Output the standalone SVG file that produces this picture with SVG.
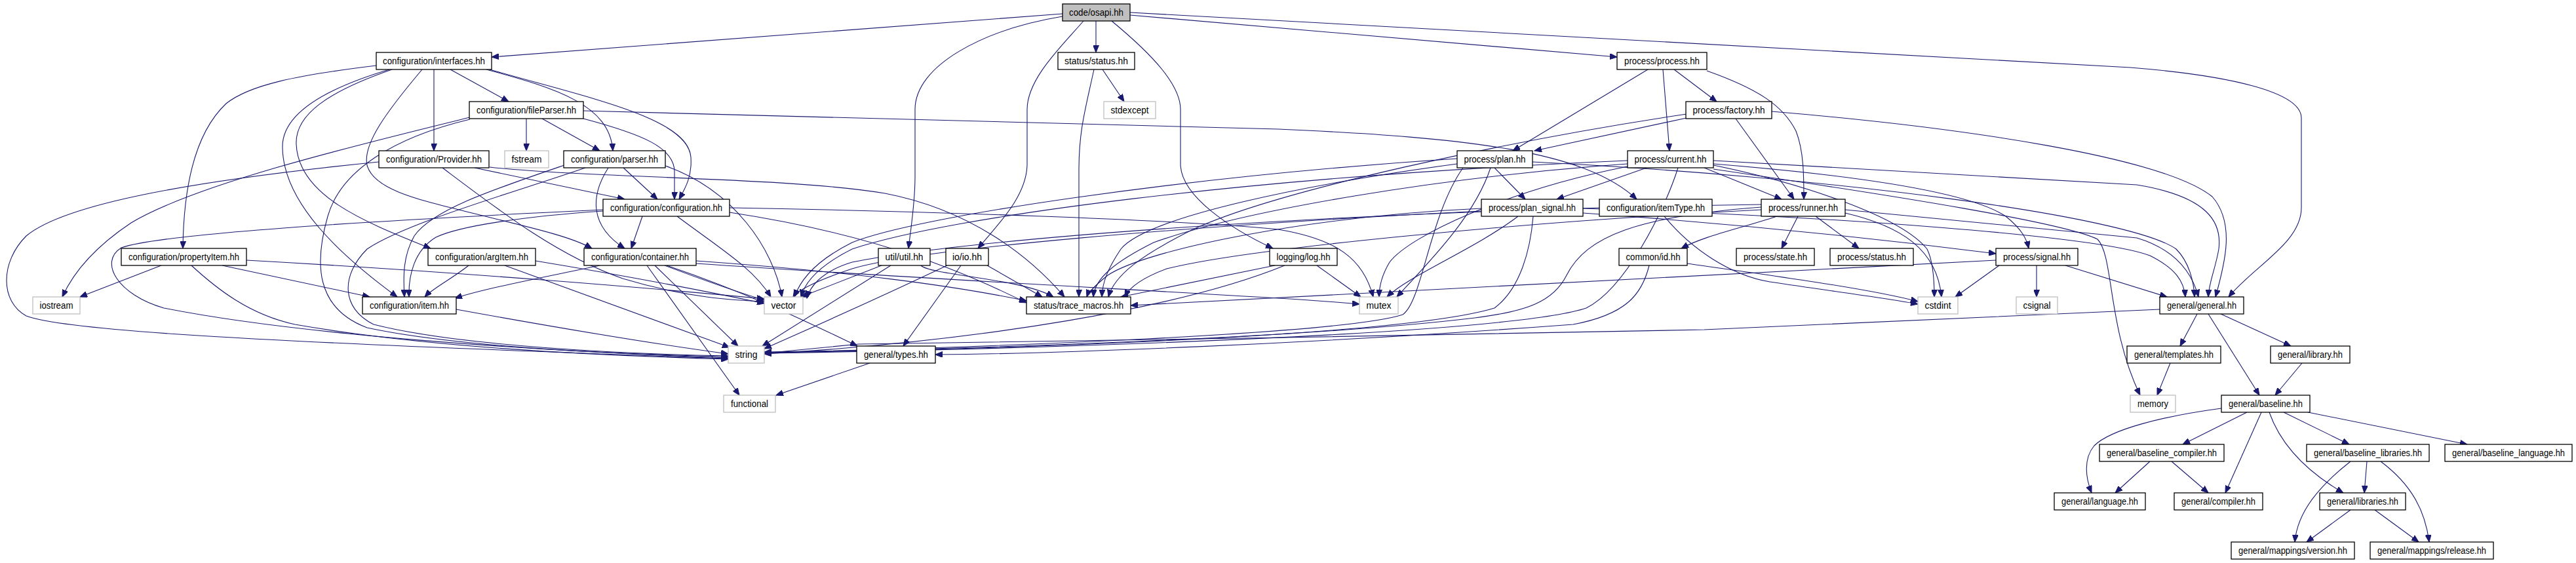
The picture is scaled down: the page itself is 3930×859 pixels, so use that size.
<svg xmlns="http://www.w3.org/2000/svg" width="3930" height="859" viewBox="0 0 3930 859">
<defs>
<marker id="ah" markerWidth="12" markerHeight="9" refX="11" refY="4.5" orient="auto" markerUnits="userSpaceOnUse">
<path d="M0,0 L11,4.5 L0,9 z" fill="#191970" stroke="#191970"/>
</marker>
<style>
.e path{fill:none;stroke:#191970;stroke-width:1.1;marker-end:url(#ah)}
.n rect{fill:#fff;stroke:#000;stroke-width:1.3}
.x rect{fill:#fff;stroke:#bfbfbf;stroke-width:1.3}
.r rect{fill:#bfbfbf;stroke:#000;stroke-width:1.3}
text{font-family:"Liberation Sans",Arial,sans-serif;font-size:14px;text-anchor:middle;fill:#000}
</style>
</defs>
<rect width="3930" height="859" fill="#fff"/>
<g id="connectors" class="e">
<path d="M1621,21 L750,87"/>
<path d="M1672,32 L1672,80"/>
<path d="M1621,25 C1500,45 1396,100 1396,167 L1396,270 C1396,310 1390,345 1386,379"/>
<path d="M1653,32 C1620,70 1567,120 1567,167 L1567,250 C1567,300 1520,345 1492,379"/>
<path d="M1696,32 C1760,85 1801,130 1801,167 L1801,250 C1801,300 1880,350 1942,379"/>
<path d="M1724,23 L2467,87"/>
<path d="M1724,19 L3250,103 C3400,115 3511,140 3511,180 L3511,317 C3511,370 3440,405 3400,453"/>
<path d="M1682,106 L1715,155"/>
<path d="M1669,106 C1655,170 1646,200 1646,260 L1646,453"/>
<path d="M574,100 C450,115 380,130 345,158 C295,205 280,290 279,379"/>
<path d="M662,106 L662,230"/>
<path d="M687,106 L776,155"/>
<path d="M742,106 C850,135 930,160 935,230"/>
<path d="M747,106 C900,150 1050,180 1054,240 C1056,270 1045,288 1036,304"/>
<path d="M644,106 C590,170 553,220 560,252 C570,290 640,305 720,325 C800,345 870,360 903,379"/>
<path d="M598,106 C500,140 450,175 452,220 C455,300 560,340 657,379"/>
<path d="M594,106 C480,140 430,180 431,225 C432,310 520,390 606,453"/>
<path d="M803,181 L803,230"/>
<path d="M827,181 L915,230"/>
<path d="M890,181 C980,205 1029,225 1029,262 L1029,304"/>
<path d="M890,169 L1950,197 C2250,210 2420,232 2497,304"/>
<path d="M717,179 C550,220 300,280 200,340 C140,380 110,420 95,453"/>
<path d="M717,182 C600,210 520,260 500,330 C480,400 480,470 560,500 C700,530 950,541 1111,544"/>
<path d="M724,256 L953,304"/>
<path d="M578,247 C300,275 100,310 40,360 C0,400 0,460 40,482 C100,505 400,522 1111,547"/>
<path d="M747,255 C900,272 1200,270 1350,295 C1480,320 1570,390 1624,453"/>
<path d="M675,256 C760,320 850,390 950,425 C1050,455 1120,458 1166,460"/>
<path d="M951,256 L1003,304"/>
<path d="M928,256 C900,300 900,345 953,379"/>
<path d="M1015,253 C1120,290 1180,380 1193,453"/>
<path d="M861,252 C750,290 660,320 632,360 C615,390 615,420 617,453"/>
<path d="M893,256 C780,295 620,340 560,380 C520,420 520,470 570,495 C700,528 950,540 1111,543"/>
<path d="M920,322 C800,330 700,345 665,362 C632,382 623,420 624,453"/>
<path d="M920,320 C600,335 250,355 185,378 C150,400 180,450 250,470 C450,510 800,535 1111,546"/>
<path d="M980,330 L963,379"/>
<path d="M1033,330 C1100,380 1150,410 1176,453"/>
<path d="M1113,317 C1400,322 1800,335 1950,350 C2040,365 2080,395 2095,453"/>
<path d="M1113,324 C1350,360 1480,420 1566,462"/>
<path d="M915,405 C820,425 740,440 694,455"/>
<path d="M987,405 L1128,603"/>
<path d="M999,405 L1126,528"/>
<path d="M1014,405 C1080,430 1140,450 1166,458"/>
<path d="M1017,405 C1150,450 1250,500 1308,528"/>
<path d="M1062,398 C1300,415 1450,435 1566,459"/>
<path d="M1062,402 C1400,425 1700,440 1950,455 C2000,458 2040,461 2074,464"/>
<path d="M715,405 C690,425 660,440 648,453"/>
<path d="M770,405 L1113,530"/>
<path d="M817,398 C950,420 1080,445 1166,463"/>
<path d="M246,405 L122,453"/>
<path d="M292,405 C330,440 380,480 450,495 C650,530 900,542 1111,548"/>
<path d="M339,405 L564,453"/>
<path d="M376,397 C700,415 1000,440 1166,456"/>
<path d="M696,472 C850,500 1000,525 1111,540"/>
<path d="M1345,405 L1222,453"/>
<path d="M1359,405 L1163,528"/>
<path d="M1405,405 C1420,420 1560,425 1607,453"/>
<path d="M1466,405 L1378,528"/>
<path d="M1445,405 C1350,450 1250,495 1166,532"/>
<path d="M1506,405 L1590,453"/>
<path d="M1945,405 L1710,453"/>
<path d="M2009,405 L2076,453"/>
<path d="M1960,405 C1800,470 1500,520 1166,540"/>
<path d="M1327,554 L1184,603"/>
<path d="M2554,106 L2619,155"/>
<path d="M2514,106 L2308,230"/>
<path d="M2537,106 L2547,230"/>
<path d="M2604,108 C2680,135 2720,160 2740,200 C2752,230 2752,270 2752,304"/>
<path d="M2648,181 L2737,304"/>
<path d="M2573,180 L2341,230"/>
<path d="M2703,170 C3000,195 3300,240 3375,300 C3410,340 3395,400 3380,453"/>
<path d="M2573,174 C2300,215 1950,290 1820,350 C1740,390 1700,420 1691,453"/>
<path d="M2280,256 L2327,304"/>
<path d="M2338,247 C2800,270 3250,330 3320,380 C3340,400 3347,430 3348,453"/>
<path d="M2223,250 C2000,280 1750,330 1710,380 C1690,410 1682,430 1681,453"/>
<path d="M2274,256 C2250,330 2180,400 2131,453"/>
<path d="M2232,256 C2180,330 2170,460 2140,480 C2050,510 1500,530 1166,538"/>
<path d="M2223,242 C1800,270 1400,330 1300,370 C1240,400 1220,430 1212,453"/>
<path d="M2512,256 L2375,304"/>
<path d="M2600,256 L2718,304"/>
<path d="M2614,250 C2800,265 3000,290 3060,330 C3085,350 3092,365 3095,379"/>
<path d="M2614,245 L3260,282 C3370,300 3390,340 3385,380 C3380,410 3370,430 3369,453"/>
<path d="M2614,252 C2750,280 2900,330 2940,380 C2950,400 2951,430 2951,453"/>
<path d="M2483,250 C2200,270 1900,320 1760,370 C1700,400 1670,425 1668,453"/>
<path d="M2483,254 C2300,290 2150,360 2120,400 C2108,420 2104,440 2104,453"/>
<path d="M2560,256 C2540,320 2480,440 2420,470 C2300,510 1600,532 1166,539"/>
<path d="M2483,245 C1900,270 1450,330 1300,380 C1250,405 1228,430 1222,453"/>
<path d="M2614,258 C2900,300 3150,340 3200,365 C3225,390 3215,500 3265,603"/>
<path d="M2415,318 C2800,330 3200,360 3280,390 C3320,410 3332,430 3334,453"/>
<path d="M2415,325 C2700,345 2950,375 3045,387"/>
<path d="M2260,318 C2000,330 1750,380 1690,420 C1665,440 1659,450 1658,453"/>
<path d="M2316,330 C2250,380 2150,420 2116,453"/>
<path d="M2339,330 C2335,380 2320,440 2280,470 C2150,510 1600,532 1166,538"/>
<path d="M2260,322 C1800,345 1400,380 1300,410 C1240,430 1215,445 1210,453"/>
<path d="M2743,330 L2718,379"/>
<path d="M2770,330 L2836,379"/>
<path d="M2711,330 C2650,350 2600,360 2565,379"/>
<path d="M2815,320 L3260,363 C3300,375 3340,400 3354,453"/>
<path d="M2815,325 C2900,345 2955,380 2962,453"/>
<path d="M2687,320 C2300,340 1900,380 1780,410 C1740,425 1722,440 1716,453"/>
<path d="M2687,316 C2500,330 2420,360 2390,420 C2370,460 2330,475 2250,485 C2000,515 1500,533 1166,537"/>
<path d="M2687,312 C2100,320 1500,360 1300,400 C1250,415 1235,440 1231,455"/>
<path d="M2574,402 C2700,420 2850,440 2926,460"/>
<path d="M2516,405 C2505,450 2480,480 2400,495 C2000,525 1600,540 1427,541"/>
<path d="M2539,330 C2580,380 2640,420 2700,430 C2800,445 2880,455 2926,464"/>
<path d="M3151,405 L3306,453"/>
<path d="M3050,405 L2983,453"/>
<path d="M3107,405 L3107,453"/>
<path d="M3045,397 L1725,466"/>
<path d="M3352,479 L3326,528"/>
<path d="M3369,479 L3447,603"/>
<path d="M3388,479 L3495,528"/>
<path d="M3295,472 L2600,503 L1960,515 L1310,525 L1166,539"/>
<path d="M3311,554 L3291,603"/>
<path d="M3512,554 L3471,603"/>
<path d="M3428,629 L3330,678"/>
<path d="M3450,629 L3395,752"/>
<path d="M3462,629 C3480,680 3520,720 3575,752"/>
<path d="M3484,629 L3584,678"/>
<path d="M3521,629 L3764,678"/>
<path d="M3389,623 C3300,635 3220,655 3195,680 C3178,700 3182,730 3191,752"/>
<path d="M3280,704 L3227,752"/>
<path d="M3313,704 L3369,752"/>
<path d="M3611,704 L3607,752"/>
<path d="M3586,704 C3540,740 3505,780 3501,827"/>
<path d="M3632,704 C3680,740 3700,780 3706,827"/>
<path d="M3586,778 L3519,827"/>
<path d="M3623,778 L3690,827"/>
</g>
<g id="n_osapi" class="r"><rect x="1621" y="6" width="103" height="26"/><text x="1672.5" y="24" textLength="83" lengthAdjust="spacingAndGlyphs">code/osapi.hh</text></g>
<g id="n_interfaces" class="n"><rect x="574" y="80" width="176" height="26"/><text x="662" y="98" textLength="156" lengthAdjust="spacingAndGlyphs">configuration/interfaces.hh</text></g>
<g id="n_status" class="n"><rect x="1614" y="80" width="117" height="26"/><text x="1672.5" y="98" textLength="97" lengthAdjust="spacingAndGlyphs">status/status.hh</text></g>
<g id="n_process" class="n"><rect x="2467" y="80" width="137" height="26"/><text x="2535.5" y="98" textLength="115" lengthAdjust="spacingAndGlyphs">process/process.hh</text></g>
<g id="n_fileParser" class="n"><rect x="716" y="155" width="174" height="26"/><text x="803" y="173" textLength="152" lengthAdjust="spacingAndGlyphs">configuration/fileParser.hh</text></g>
<g id="n_stdexcept" class="x"><rect x="1684" y="155" width="79" height="26"/><text x="1723.5" y="173" textLength="58" lengthAdjust="spacingAndGlyphs">stdexcept</text></g>
<g id="n_factory" class="n"><rect x="2572" y="155" width="131" height="26"/><text x="2637.5" y="173" textLength="110" lengthAdjust="spacingAndGlyphs">process/factory.hh</text></g>
<g id="n_Provider" class="n"><rect x="578" y="230" width="168" height="26"/><text x="662" y="248" textLength="146" lengthAdjust="spacingAndGlyphs">configuration/Provider.hh</text></g>
<g id="n_fstream" class="x"><rect x="770" y="230" width="67" height="26"/><text x="803.5" y="248" textLength="46" lengthAdjust="spacingAndGlyphs">fstream</text></g>
<g id="n_parser" class="n"><rect x="860" y="230" width="155" height="26"/><text x="937.5" y="248" textLength="133" lengthAdjust="spacingAndGlyphs">configuration/parser.hh</text></g>
<g id="n_plan" class="n"><rect x="2223" y="230" width="115" height="26"/><text x="2280.5" y="248" textLength="94" lengthAdjust="spacingAndGlyphs">process/plan.hh</text></g>
<g id="n_current" class="n"><rect x="2483" y="230" width="131" height="26"/><text x="2548.5" y="248" textLength="110" lengthAdjust="spacingAndGlyphs">process/current.hh</text></g>
<g id="n_configuration" class="n"><rect x="920" y="304" width="193" height="26"/><text x="1016.5" y="322" textLength="171" lengthAdjust="spacingAndGlyphs">configuration/configuration.hh</text></g>
<g id="n_plan_signal" class="n"><rect x="2260" y="304" width="155" height="26"/><text x="2337.5" y="322" textLength="133" lengthAdjust="spacingAndGlyphs">process/plan_signal.hh</text></g>
<g id="n_itemType" class="n"><rect x="2440" y="304" width="172" height="26"/><text x="2526" y="322" textLength="150" lengthAdjust="spacingAndGlyphs">configuration/itemType.hh</text></g>
<g id="n_runner" class="n"><rect x="2687" y="304" width="128" height="26"/><text x="2751" y="322" textLength="106" lengthAdjust="spacingAndGlyphs">process/runner.hh</text></g>
<g id="n_propertyItem" class="n"><rect x="185" y="379" width="191" height="26"/><text x="280.5" y="397" textLength="169" lengthAdjust="spacingAndGlyphs">configuration/propertyItem.hh</text></g>
<g id="n_argItem" class="n"><rect x="653" y="379" width="164" height="26"/><text x="735" y="397" textLength="142" lengthAdjust="spacingAndGlyphs">configuration/argItem.hh</text></g>
<g id="n_container" class="n"><rect x="891" y="379" width="171" height="26"/><text x="976.5" y="397" textLength="149" lengthAdjust="spacingAndGlyphs">configuration/container.hh</text></g>
<g id="n_util" class="n"><rect x="1340" y="379" width="79" height="26"/><text x="1379.5" y="397" textLength="58" lengthAdjust="spacingAndGlyphs">util/util.hh</text></g>
<g id="n_io" class="n"><rect x="1443" y="379" width="65" height="26"/><text x="1475.5" y="397" textLength="45" lengthAdjust="spacingAndGlyphs">io/io.hh</text></g>
<g id="n_log" class="n"><rect x="1937" y="379" width="103" height="26"/><text x="1988.5" y="397" textLength="82" lengthAdjust="spacingAndGlyphs">logging/log.hh</text></g>
<g id="n_id" class="n"><rect x="2470" y="379" width="104" height="26"/><text x="2522" y="397" textLength="83" lengthAdjust="spacingAndGlyphs">common/id.hh</text></g>
<g id="n_state" class="n"><rect x="2649" y="379" width="119" height="26"/><text x="2708.5" y="397" textLength="97" lengthAdjust="spacingAndGlyphs">process/state.hh</text></g>
<g id="n_pstatus" class="n"><rect x="2792" y="379" width="127" height="26"/><text x="2855.5" y="397" textLength="105" lengthAdjust="spacingAndGlyphs">process/status.hh</text></g>
<g id="n_signal" class="n"><rect x="3045" y="379" width="125" height="26"/><text x="3107.5" y="397" textLength="103" lengthAdjust="spacingAndGlyphs">process/signal.hh</text></g>
<g id="n_iostream" class="x"><rect x="50" y="453" width="72" height="26"/><text x="86" y="471" textLength="51" lengthAdjust="spacingAndGlyphs">iostream</text></g>
<g id="n_item" class="n"><rect x="553" y="453" width="143" height="26"/><text x="624.5" y="471" textLength="121" lengthAdjust="spacingAndGlyphs">configuration/item.hh</text></g>
<g id="n_vector" class="x"><rect x="1166" y="453" width="59" height="26"/><text x="1195.5" y="471" textLength="38" lengthAdjust="spacingAndGlyphs">vector</text></g>
<g id="n_trace" class="n"><rect x="1566" y="453" width="159" height="26"/><text x="1645.5" y="471" textLength="137" lengthAdjust="spacingAndGlyphs">status/trace_macros.hh</text></g>
<g id="n_mutex" class="x"><rect x="2074" y="453" width="59" height="26"/><text x="2103.5" y="471" textLength="38" lengthAdjust="spacingAndGlyphs">mutex</text></g>
<g id="n_cstdint" class="x"><rect x="2926" y="453" width="61" height="26"/><text x="2956.5" y="471" textLength="40" lengthAdjust="spacingAndGlyphs">cstdint</text></g>
<g id="n_csignal" class="x"><rect x="3076" y="453" width="63" height="26"/><text x="3107.5" y="471" textLength="42" lengthAdjust="spacingAndGlyphs">csignal</text></g>
<g id="n_general" class="n"><rect x="3295" y="453" width="128" height="26"/><text x="3359" y="471" textLength="106" lengthAdjust="spacingAndGlyphs">general/general.hh</text></g>
<g id="n_string" class="x"><rect x="1111" y="528" width="55" height="26"/><text x="1138.5" y="546" textLength="34" lengthAdjust="spacingAndGlyphs">string</text></g>
<g id="n_types" class="n"><rect x="1307" y="528" width="120" height="26"/><text x="1367" y="546" textLength="98" lengthAdjust="spacingAndGlyphs">general/types.hh</text></g>
<g id="n_templates" class="n"><rect x="3245" y="528" width="143" height="26"/><text x="3316.5" y="546" textLength="121" lengthAdjust="spacingAndGlyphs">general/templates.hh</text></g>
<g id="n_library" class="n"><rect x="3464" y="528" width="121" height="26"/><text x="3524.5" y="546" textLength="99" lengthAdjust="spacingAndGlyphs">general/library.hh</text></g>
<g id="n_functional" class="x"><rect x="1104" y="603" width="79" height="26"/><text x="1143.5" y="621" textLength="57" lengthAdjust="spacingAndGlyphs">functional</text></g>
<g id="n_memory" class="x"><rect x="3250" y="603" width="69" height="26"/><text x="3284.5" y="621" textLength="47" lengthAdjust="spacingAndGlyphs">memory</text></g>
<g id="n_baseline" class="n"><rect x="3389" y="603" width="135" height="26"/><text x="3456.5" y="621" textLength="113" lengthAdjust="spacingAndGlyphs">general/baseline.hh</text></g>
<g id="n_baseline_compiler" class="n"><rect x="3203" y="678" width="190" height="26"/><text x="3298" y="696" textLength="168" lengthAdjust="spacingAndGlyphs">general/baseline_compiler.hh</text></g>
<g id="n_baseline_libraries" class="n"><rect x="3519" y="678" width="187" height="26"/><text x="3612.5" y="696" textLength="165" lengthAdjust="spacingAndGlyphs">general/baseline_libraries.hh</text></g>
<g id="n_baseline_language" class="n"><rect x="3730" y="678" width="194" height="26"/><text x="3827" y="696" textLength="172" lengthAdjust="spacingAndGlyphs">general/baseline_language.hh</text></g>
<g id="n_language" class="n"><rect x="3134" y="752" width="139" height="26"/><text x="3203.5" y="770" textLength="117" lengthAdjust="spacingAndGlyphs">general/language.hh</text></g>
<g id="n_compiler" class="n"><rect x="3317" y="752" width="135" height="26"/><text x="3384.5" y="770" textLength="113" lengthAdjust="spacingAndGlyphs">general/compiler.hh</text></g>
<g id="n_libraries" class="n"><rect x="3539" y="752" width="131" height="26"/><text x="3604.5" y="770" textLength="109" lengthAdjust="spacingAndGlyphs">general/libraries.hh</text></g>
<g id="n_version" class="n"><rect x="3404" y="827" width="188" height="26"/><text x="3498" y="845" textLength="166" lengthAdjust="spacingAndGlyphs">general/mappings/version.hh</text></g>
<g id="n_release" class="n"><rect x="3616" y="827" width="188" height="26"/><text x="3710" y="845" textLength="166" lengthAdjust="spacingAndGlyphs">general/mappings/release.hh</text></g>
</svg>
